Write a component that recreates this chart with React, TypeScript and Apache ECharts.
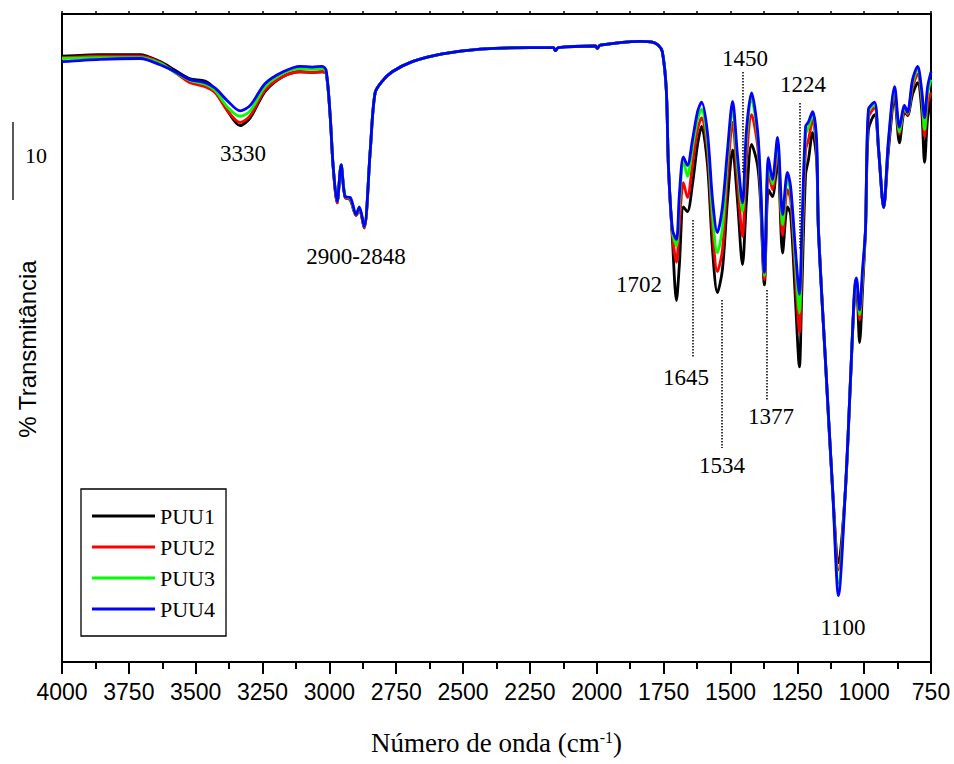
import React, { useEffect, useRef } from "react";
import * as echarts from "echarts";

// Wavenumber (cm-1) sampling points, shared by the four spectra
const wavenumbers = [
  4000, 3858, 3708, 3633, 3577, 3521, 3465, 3427, 3379, 3334,
  3296, 3240, 3173, 3109, 3064, 3027, 3012, 2997, 2986, 2971,
  2956, 2941, 2922, 2900, 2888, 2870, 2847, 2829, 2802, 2765,
  2690, 2578, 2436, 2249, 2162, 2155, 2144, 2005, 1998, 1987,
  1837, 1792, 1770, 1755, 1740, 1732, 1717, 1702, 1691, 1676,
  1661, 1642, 1623, 1608, 1586, 1567, 1549, 1530, 1511, 1492,
  1474, 1455, 1440, 1421, 1399, 1388, 1373, 1358, 1343, 1324,
  1305, 1287, 1275, 1257, 1242, 1234, 1219, 1208, 1193, 1178,
  1171, 1145, 1118, 1096, 1070, 1051, 1036, 1029,
  1017, 1006, 995, 984, 961, 946, 927, 909, 886, 868,
  849, 838, 819, 800, 785, 774, 763, 750,
];

// % Transmittance (arbitrary offset)
const puu1 = [
  77.6, 77.8, 77.8, 76.9, 75.8, 74.7, 74.4, 73.3, 70.5, 68.7,
  69.7, 73.1, 75.0, 75.6, 75.5, 75.6, 75.4, 69.9, 63.5, 58.8,
  63.5, 59.5, 59.2, 57.2, 58.1, 55.6, 65.6, 72.9, 74.4, 75.6,
  76.9, 77.9, 78.5, 78.7, 78.7, 78.3, 78.7, 78.9, 78.6, 79.0,
  79.5, 79.4, 79.0, 78.2, 73.3, 63.5, 54.1, 46.3, 50.9, 58.3,
  57.7, 61.2, 66.3, 68.6, 63.7, 52.8, 47.3, 50.3, 59.2, 65.6,
  59.2, 50.9, 59.2, 66.3, 63.7, 59.2, 48.3, 60.5, 59.6, 64.4,
  52.4, 58.3, 57.3, 46.4, 37.8, 46.4, 62.4, 64.4, 67.8, 64.4,
  55.4, 38.7, 22.1, 12.7, 22.1, 36.2, 47.1, 48.3,
  40.9, 47.7, 55.4, 68.2, 70.1, 65.6, 58.2, 65.6, 72.1, 66.5,
  70.5, 70.0, 72.7, 74.2, 70.8, 64.0, 69.5, 72.1,
];
const puu2 = [
  77.4, 77.6, 77.6, 76.8, 75.5, 74.2, 73.7, 72.9, 70.5, 69.1,
  70.0, 73.3, 75.0, 75.6, 75.5, 75.6, 75.4, 69.9, 63.5, 58.8,
  63.6, 59.5, 59.2, 57.2, 57.9, 55.6, 65.6, 72.9, 74.4, 75.6,
  76.9, 77.9, 78.5, 78.7, 78.7, 78.3, 78.7, 78.9, 78.6, 79.0,
  79.5, 79.4, 79.0, 78.2, 73.3, 63.5, 54.7, 51.2, 56.0, 61.4,
  59.5, 63.7, 68.2, 69.7, 65.6, 55.4, 50.0, 52.8, 62.4, 69.1,
  61.8, 54.5, 64.4, 70.1, 66.3, 60.5, 49.0, 62.8, 60.5, 65.6,
  54.7, 60.5, 59.2, 49.6, 42.2, 50.3, 65.6, 66.9, 69.5, 65.6,
  55.4, 38.7, 22.1, 11.8, 22.1, 36.2, 47.1, 48.6,
  43.8, 49.0, 55.4, 69.7, 71.0, 65.6, 58.2, 66.3, 72.7, 67.6,
  70.8, 70.1, 73.6, 75.3, 72.1, 67.3, 71.4, 72.9,
];
const puu3 = [
  77.3, 77.4, 77.4, 76.7, 75.5, 74.5, 74.0, 73.2, 71.0, 69.9,
  70.6, 73.7, 75.4, 76.0, 75.9, 76.0, 75.6, 69.9, 63.5, 59.0,
  63.7, 59.6, 59.4, 57.3, 58.2, 55.8, 65.6, 72.9, 74.4, 75.6,
  76.9, 77.9, 78.5, 78.7, 78.7, 78.3, 78.7, 78.9, 78.6, 79.0,
  79.5, 79.4, 79.0, 78.2, 73.3, 63.5, 55.1, 53.3, 58.6, 64.4,
  62.2, 65.9, 69.5, 70.8, 66.7, 57.3, 52.4, 55.6, 64.4, 71.0,
  63.7, 57.7, 66.9, 72.1, 67.6, 61.2, 49.5, 64.1, 61.2, 66.5,
  56.0, 61.8, 60.3, 51.3, 44.7, 52.2, 67.6, 68.5, 70.1, 66.3,
  55.4, 38.7, 22.1, 10.1, 22.1, 36.2, 47.4, 49.0,
  44.5, 49.6, 55.4, 70.5, 71.4, 65.6, 58.2, 66.7, 73.3, 67.9,
  71.0, 70.3, 74.1, 75.9, 72.7, 68.2, 72.7, 74.6,
];
const puu4 = [
  76.9, 77.2, 77.3, 76.5, 75.6, 74.6, 74.2, 73.5, 71.8, 70.6,
  71.3, 74.1, 75.6, 76.3, 76.2, 76.3, 75.8, 69.9, 63.5, 59.0,
  63.7, 59.6, 59.5, 57.3, 58.3, 55.8, 65.6, 72.9, 74.4, 75.6,
  76.9, 77.9, 78.5, 78.7, 78.7, 78.3, 78.7, 78.9, 78.6, 79.0,
  79.5, 79.4, 79.0, 78.2, 73.3, 63.5, 55.4, 54.1, 59.9, 64.7,
  63.6, 66.9, 70.5, 71.7, 67.8, 59.2, 55.0, 58.3, 65.6, 71.8,
  65.0, 58.8, 68.2, 72.9, 68.2, 61.8, 49.9, 64.6, 61.8, 67.2,
  57.3, 62.7, 60.9, 52.8, 47.1, 54.1, 68.6, 69.2, 70.5, 66.9,
  55.4, 38.7, 22.1, 8.5, 22.1, 36.2, 47.7, 49.2,
  45.1, 50.3, 55.4, 70.8, 71.7, 65.6, 58.2, 66.9, 73.7, 68.5,
  71.3, 70.4, 74.6, 76.3, 73.3, 69.7, 73.6, 75.6,
];

const seriesNames = ["PUU1", "PUU2", "PUU3", "PUU4"];
const seriesColors = ["#000000", "#ff0000", "#00ff00", "#0000ff"];

const xMin = 750;
const xMax = 4000;
const xInterval = 250;
const yMin = 0;
const yMax = 83;
const scaleBarValue = 10;

const peakLabels = ["3330", "2900-2848", "1702", "1645", "1534", "1377", "1450", "1224", "1100"];
// layout (pixel) positions of the annotations
const peakLabelPos = [
  [243, 153], [356, 256], [639, 284], [686, 377], [722, 465],
  [771, 416], [745, 58], [803, 84], [843, 627],
];
const guideLines = [
  [743, 72, 743, 173],
  [800, 103, 800, 250],
  [693, 220, 693, 358],
  [722, 300, 722, 448],
  [767, 290, 767, 400],
];

const SERIF = '"Liberation Serif", "Times New Roman", serif';
const SANS = '"Liberation Sans", Arial, sans-serif';

export default function App() {
  const ref = useRef<HTMLDivElement>(null);

  useEffect(() => {
    document.body.style.margin = "0";
    const chart = echarts.init(ref.current as HTMLDivElement, null, { renderer: "svg" });
    const frameLine = { color: "#000", width: 2 };

    const option: any = {
      animation: false,
      backgroundColor: "#ffffff",
      grid: { left: 62, top: 14, right: 23, bottom: 102, containLabel: false },
      legend: {
        data: seriesNames,
        orient: "vertical",
        left: 81,
        top: 489,
        padding: [16, 11, 16, 11],
        itemGap: 9,
        itemWidth: 63,
        itemHeight: 3,
        icon: "rect",
        borderColor: "#000",
        borderWidth: 1.3,
        backgroundColor: "#fff",
        textStyle: { fontFamily: SERIF, fontSize: 22, color: "#000", lineHeight: 22 },
      },
      xAxis: [
        {
          type: "value",
          position: "bottom",
          inverse: true,
          min: xMin,
          max: xMax,
          interval: xInterval,
          axisLine: { show: true, onZero: false, lineStyle: frameLine },
          axisTick: { show: true, length: 12, lineStyle: { color: "#000", width: 2 } },
          minorTick: { show: true, splitNumber: 2, length: 7, lineStyle: { color: "#000", width: 2 } },
          axisLabel: {
            fontFamily: SANS,
            fontSize: 23,
            color: "#000",
            margin: 18,
            formatter: (v: number) => String(v),
          },
          splitLine: { show: false },
          name: "Número de onda (cm{sup|-1})",
          nameLocation: "middle",
          nameGap: 67,
          nameTextStyle: {
            fontFamily: SERIF,
            fontSize: 27,
            color: "#000",
            rich: { sup: { fontFamily: SERIF, fontSize: 16, color: "#000", verticalAlign: "top" } },
          },
        },
        {
          type: "value",
          position: "top",
          inverse: true,
          min: xMin,
          max: xMax,
          interval: xInterval,
          axisLine: { show: true, onZero: false, lineStyle: frameLine },
          axisTick: { show: true, length: 3, lineStyle: { color: "#000", width: 1.5 } },
          minorTick: { show: true, splitNumber: 2, length: 3, lineStyle: { color: "#000", width: 1.5 } },
          axisLabel: { show: false },
          splitLine: { show: false },
        },
      ],
      yAxis: [
        {
          type: "value",
          position: "left",
          min: yMin,
          max: yMax,
          axisLine: { show: true, onZero: false, lineStyle: frameLine },
          axisTick: { show: false },
          axisLabel: { show: false },
          splitLine: { show: false },
        },
        {
          type: "value",
          position: "right",
          min: yMin,
          max: yMax,
          axisLine: { show: true, onZero: false, lineStyle: frameLine },
          axisTick: { show: false },
          axisLabel: { show: false },
          splitLine: { show: false },
        },
      ],
      series: [puu1, puu2, puu3, puu4].map((vals, i) => ({
        name: seriesNames[i],
        type: "line",
        xAxisIndex: 0,
        yAxisIndex: 0,
        data: wavenumbers.map((w, j) => [w, vals[j]]),
        showSymbol: false,
        symbol: "none",
        smooth: 0.3,
        lineStyle: { color: seriesColors[i], width: 2.8, join: "round" },
        itemStyle: { color: seriesColors[i] },
        silent: true,
        z: 2 + i,
      })),
    };
    chart.setOption(option);

    const y0 = chart.convertToPixel({ yAxisIndex: 0 }, yMin) as number;
    const y10 = chart.convertToPixel({ yAxisIndex: 0 }, yMin + scaleBarValue) as number;
    const barLen = Math.abs(y0 - y10);
    const barTop = 122;

    const graphics: any[] = [
      {
        type: "line",
        shape: { x1: 13, y1: barTop, x2: 13, y2: barTop + barLen },
        style: { stroke: "#000", lineWidth: 1.3 },
      },
      {
        type: "text",
        x: 36,
        y: barTop + barLen / 2 - 6,
        style: {
          text: String(scaleBarValue),
          fontFamily: SERIF,
          fontSize: 22,
          fill: "#000",
          align: "center",
          verticalAlign: "middle",
        },
      },
      {
        type: "text",
        x: 27,
        y: 349,
        rotation: Math.PI / 2,
        style: {
          text: "% Transmitância",
          fontFamily: SANS,
          fontSize: 24,
          fill: "#000",
          align: "center",
          verticalAlign: "middle",
        },
      },
    ];
    peakLabels.forEach((t, i) => {
      graphics.push({
        type: "text",
        x: peakLabelPos[i][0],
        y: peakLabelPos[i][1],
        z: 10,
        style: {
          text: t,
          fontFamily: SERIF,
          fontSize: 23,
          fill: "#000",
          align: "center",
          verticalAlign: "middle",
        },
      });
    });
    guideLines.forEach((g) => {
      graphics.push({
        type: "line",
        z: 10,
        shape: { x1: g[0], y1: g[1], x2: g[2], y2: g[3] },
        style: { stroke: "#000", lineWidth: 1.5, lineDash: [1.5, 1.5] },
      });
    });
    chart.setOption({ graphic: graphics });

    return () => {
      chart.dispose();
    };
  }, []);

  return (
    <div
      ref={ref}
      style={{ position: "absolute", left: 0, top: 0, width: 954, height: 764 }}
    />
  );
}
